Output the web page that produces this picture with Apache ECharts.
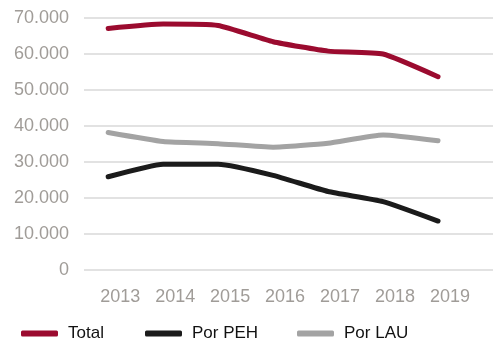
<!DOCTYPE html>
<html><head><meta charset="utf-8">
<script src="https://cdn.jsdelivr.net/npm/echarts@6/dist/echarts.min.js"></script>
<style>html,body{margin:0;padding:0;background:#fff}#c{width:500px;height:357px}</style>
</head><body><div id="c"></div>
<script>
const years = [2013, 2014, 2015, 2016, 2017, 2018, 2019];
const total = [67100, 68300, 67900, 63400, 60800, 60000, 53700];
const porPEH = [25900, 29400, 29400, 26300, 21800, 19000, 13600];
const porLAU = [38200, 35700, 35100, 34100, 35200, 37500, 35900];
const seriesNames = ['Total', 'Por PEH', 'Por LAU'];
const colors = ['#9b0b2f', '#1b1b1b', '#a3a3a3'];

const fmt = v => String(v).replace(/\B(?=(\d{3})+(?!\d))/g, '.');
const chart = echarts.init(document.getElementById('c'));
const mk = (name, vals, color) => ({
  name, type: 'line', data: years.map((y, i) => [y, vals[i]]),
  smooth: 0.15, symbol: 'none',
  lineStyle: { color, width: 5, cap: 'round', join: 'round' },
  itemStyle: { color }
});
const legend = (name, left) => ({
  data: [name], left, top: 325, padding: 0, icon: 'roundRect', itemWidth: 37, itemHeight: 6,
  itemGap: 0, textStyle: { fontFamily: 'Liberation Sans', fontSize: 17, color: '#111', padding: [0,0,0,5] }
});
chart.setOption({
  animation: false,
  grid: { left: 84, right: 7, top: 18, bottom: 87 },
  legend: [legend('Total', 21), legend('Por PEH', 145), legend('Por LAU', 297)],
  xAxis: {
    type: 'value', min: 2012.56, max: 2020,
    axisLine: { show: false }, axisTick: { show: false }, splitLine: { show: false },
    axisLabel: {
      customValues: years, formatter: v => String(Math.round(v)),
      margin: 18, color: '#a09c98', fontFamily: 'Liberation Sans', fontSize: 18,
      padding: [0, 0, 0, 24]
    }
  },
  yAxis: {
    type: 'value', min: 0, max: 70000, interval: 10000,
    axisLine: { show: false }, axisTick: { show: false },
    splitLine: { lineStyle: { color: '#d9d9d9', width: 1.5 } },
    axisLabel: { formatter: fmt, margin: 15, color: '#a09c98', fontFamily: 'Liberation Sans', fontSize: 18 }
  },
  series: [mk(seriesNames[0], total, colors[0]), mk(seriesNames[1], porPEH, colors[1]), mk(seriesNames[2], porLAU, colors[2])]
});
</script></body></html>
